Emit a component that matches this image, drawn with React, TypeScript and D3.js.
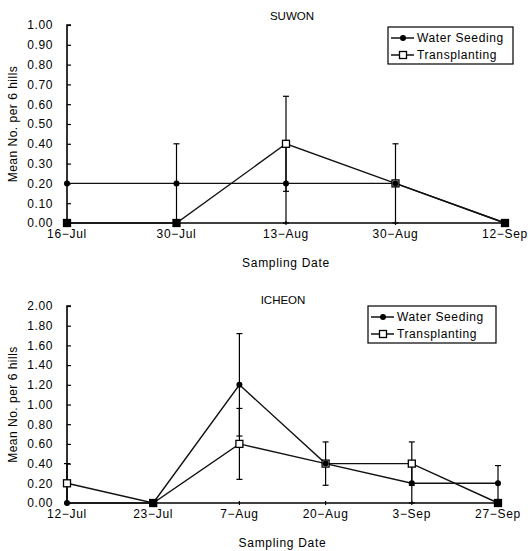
import React, { useEffect, useRef } from 'react';
import * as d3 from 'd3';

// SUWON panel
const suwonDates = ['16−Jul', '30−Jul', '13−Aug', '30−Aug', '12−Sep'];
const suwonWater = [0.2, 0.2, 0.2, 0.2, 0];
const suwonWaterErr = [0, 0.2, 0.2, 0, 0];
const suwonTrans = [0, 0, 0.4, 0.2, 0];
const suwonTransErr = [0, 0, 0.24, 0.2, 0];
const suwonTicks = [0, 0.1, 0.2, 0.3, 0.4, 0.5, 0.6, 0.7, 0.8, 0.9, 1.0];

// ICHEON panel
const icheonDates = ['12−Jul', '23−Jul', '7−Aug', '20−Aug', '3−Sep', '27−Sep'];
const icheonWater = [0, 0, 1.2, 0.4, 0.2, 0.2];
const icheonWaterErr = [0, 0, 0.52, 0, 0.2, 0.18];
const icheonTrans = [0.2, 0, 0.6, 0.4, 0.4, 0];
const icheonTransErr = [0.2, 0, 0.36, 0.22, 0.22, 0];
const icheonTicks = [0, 0.2, 0.4, 0.6, 0.8, 1.0, 1.2, 1.4, 1.6, 1.8, 2.0];

const seriesNames = ['Water Seeding', 'Transplanting'];

const FONT = '"Liberation Sans", Arial, sans-serif';

interface Panel {
  title: string;
  dates: string[];
  water: number[];
  waterErr: number[];
  trans: number[];
  transErr: number[];
  ticks: number[];
  x0: number; x1: number; yTop: number; yBot: number;
  titleX: number; titleY: number;
  legX: number; legY: number; legW: number;
}

const panels: Panel[] = [
  {
    title: 'SUWON', dates: suwonDates, water: suwonWater, waterErr: suwonWaterErr,
    trans: suwonTrans, transErr: suwonTransErr, ticks: suwonTicks,
    x0: 67, x1: 505, yTop: 25, yBot: 223, titleX: 292, titleY: 20,
    legX: 388, legY: 27, legW: 125,
  },
  {
    title: 'ICHEON', dates: icheonDates, water: icheonWater, waterErr: icheonWaterErr,
    trans: icheonTrans, transErr: icheonTransErr, ticks: icheonTicks,
    x0: 67, x1: 498, yTop: 306, yBot: 503, titleX: 283, titleY: 304,
    legX: 368, legY: 306, legW: 128,
  },
];

const App: React.FC = () => {
  const ref = useRef<SVGSVGElement | null>(null);

  useEffect(() => {
    const svg = d3.select(ref.current);
    svg.selectAll('*').remove();

    panels.forEach(p => {
      const g = svg.append('g');
      const x = d3.scalePoint<string>().domain(p.dates).range([p.x0, p.x1]);
      const maxV = p.ticks[p.ticks.length - 1];
      const y = d3.scaleLinear().domain([0, maxV]).range([p.yBot, p.yTop]);

      // y axis
      const yAxis = g.append('g')
        .attr('transform', `translate(${p.x0},0)`)
        .call(d3.axisRight(y).tickValues(p.ticks).tickSize(4).tickFormat(() => ''));
      yAxis.select('.domain').attr('stroke-width', 1.6).attr('d', `M4,${p.yTop}H0V${p.yBot}`);
      yAxis.selectAll('.tick line').attr('stroke-width', 1.2);

      g.selectAll('.ylab')
        .data(p.ticks)
        .enter()
        .append('text')
        .attr('x', p.x0 - 14)
        .attr('y', d => y(d))
        .attr('dy', '0.36em')
        .attr('text-anchor', 'end')
        .attr('font-family', FONT)
        .attr('font-size', 12)
        .attr('letter-spacing', 0.6)
        .text(d => d.toFixed(2));

      // x axis
      g.append('line')
        .attr('x1', p.x0).attr('x2', p.x1)
        .attr('y1', p.yBot).attr('y2', p.yBot)
        .attr('stroke', '#000').attr('stroke-width', 1.6);
      g.selectAll('.xtick')
        .data(p.dates)
        .enter()
        .append('line')
        .attr('x1', d => x(d)!).attr('x2', d => x(d)!)
        .attr('y1', p.yBot - 2).attr('y2', p.yBot + 2)
        .attr('stroke', '#000').attr('stroke-width', 1.2);
      g.selectAll('.xlab')
        .data(p.dates)
        .enter()
        .append('text')
        .attr('x', d => x(d)!)
        .attr('y', p.yBot + 15)
        .attr('text-anchor', 'middle')
        .attr('font-family', FONT)
        .attr('font-size', 12)
        .attr('letter-spacing', 0.7)
        .text(d => d);

      g.append('text')
        .attr('x', (p.x0 + p.x1) / 2)
        .attr('y', p.yBot + 44)
        .attr('text-anchor', 'middle')
        .attr('font-family', FONT)
        .attr('font-size', 12)
        .attr('letter-spacing', 0.7)
        .text('Sampling Date');

      g.append('text')
        .attr('transform', `translate(17,${(p.yTop + p.yBot) / 2}) rotate(-90)`)
        .attr('text-anchor', 'middle')
        .attr('font-family', FONT)
        .attr('font-size', 12)
        .attr('letter-spacing', 0.5)
        .text('Mean No. per 6 hills');

      g.append('text')
        .attr('x', p.titleX)
        .attr('y', p.titleY)
        .attr('text-anchor', 'middle')
        .attr('font-family', FONT)
        .attr('font-size', 11.5)
        .text(p.title);

      // error bars
      const drawErr = (vals: number[], errs: number[]) => {
        vals.forEach((v, i) => {
          const e = errs[i];
          if (!e) return;
          const cx = x(p.dates[i])!;
          const lo = y(Math.max(0, v - e));
          const hi = y(v + e);
          g.append('line').attr('x1', cx).attr('x2', cx).attr('y1', lo).attr('y2', hi)
            .attr('stroke', '#000').attr('stroke-width', 1.2);
          [lo, hi].forEach(yy => {
            g.append('line').attr('x1', cx - 3).attr('x2', cx + 3).attr('y1', yy).attr('y2', yy)
              .attr('stroke', '#000').attr('stroke-width', 1.2);
          });
        });
      };
      drawErr(p.water, p.waterErr);
      drawErr(p.trans, p.transErr);

      const line = d3.line<number>()
        .x((_, i) => x(p.dates[i])!)
        .y(d => y(d));

      g.append('path').datum(p.water).attr('d', line)
        .attr('fill', 'none').attr('stroke', '#111').attr('stroke-width', 1.4);
      g.append('path').datum(p.trans).attr('d', line)
        .attr('fill', 'none').attr('stroke', '#111').attr('stroke-width', 1.4);

      g.selectAll('.tmark')
        .data(p.trans)
        .enter()
        .append('rect')
        .attr('x', (_, i) => x(p.dates[i])! - 3.5)
        .attr('y', d => y(d) - 3.5)
        .attr('width', 7).attr('height', 7)
        .attr('fill', d => (d === 0 ? '#000' : '#fff'))
        .attr('stroke', '#000').attr('stroke-width', 1.3);

      g.selectAll('.wmark')
        .data(p.water)
        .enter()
        .append('circle')
        .attr('cx', (_, i) => x(p.dates[i])!)
        .attr('cy', d => y(d))
        .attr('r', 3)
        .attr('fill', '#000');

      // legend
      const leg = g.append('g').attr('transform', `translate(${p.legX},${p.legY})`);
      leg.append('rect')
        .attr('width', p.legW).attr('height', 37)
        .attr('fill', '#fff').attr('stroke', '#000').attr('stroke-width', 1.2);
      seriesNames.forEach((name, i) => {
        const ry = 11 + i * 17;
        leg.append('line').attr('x1', 3).attr('x2', 26).attr('y1', ry).attr('y2', ry)
          .attr('stroke', '#000').attr('stroke-width', 1.4);
        if (i === 0) {
          leg.append('circle').attr('cx', 15).attr('cy', ry).attr('r', 3).attr('fill', '#000');
        } else {
          leg.append('rect').attr('x', 11.5).attr('y', ry - 3.5).attr('width', 7).attr('height', 7)
            .attr('fill', '#fff').attr('stroke', '#000').attr('stroke-width', 1.3);
        }
        leg.append('text')
          .attr('x', 29).attr('y', ry)
          .attr('dy', '0.36em')
          .attr('font-family', FONT)
          .attr('font-size', 12)
          .attr('letter-spacing', 0.6)
          .text(name);
      });
    });
  }, []);

  return (
    <svg
      ref={ref}
      width={528}
      height={551}
      style={{ position: 'absolute', left: 0, top: 0, background: '#fff' }}
    />
  );
};

export default App;
